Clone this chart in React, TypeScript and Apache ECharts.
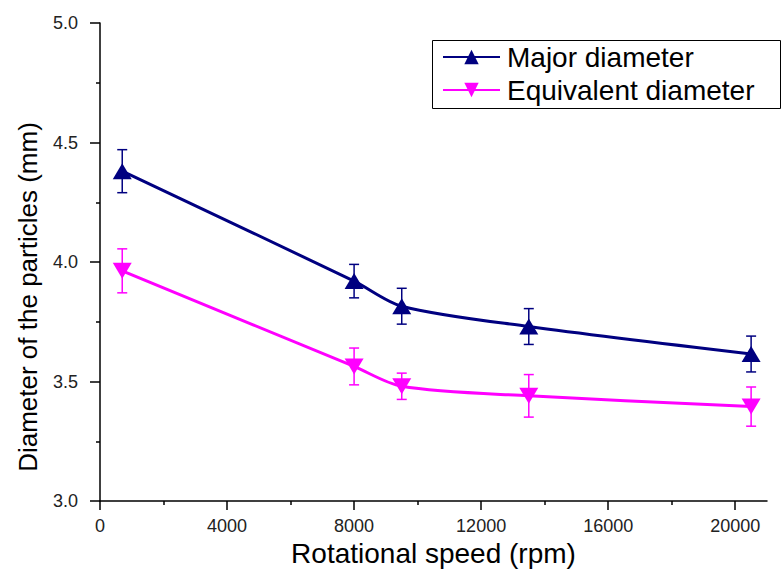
import React, { useEffect, useRef } from "react";
import * as echarts from "echarts";

const speed = [700, 8000, 9500, 13500, 20500];
const majorDiameter = [4.38, 3.92, 3.815, 3.73, 3.615];
const majorError = [0.09, 0.07, 0.075, 0.075, 0.075];
const equivalentDiameter = [3.963, 3.563, 3.48, 3.44, 3.395];
const equivalentError = [0.092, 0.077, 0.055, 0.089, 0.082];
const xMajorTicks = [0, 4000, 8000, 12000, 16000, 20000];
const xMinorTicks = [2000, 6000, 10000, 14000, 18000];

const NAVY = "#000080";
const MAGENTA = "#FF00FF";
const FONT = "Liberation Sans, Arial, sans-serif";

function errorSeries(name: string, values: number[], errs: number[], color: string) {
  return {
    name,
    type: "custom",
    xAxisIndex: 0,
    yAxisIndex: 0,
    z: 1,
    data: speed.map((s, i) => [s, values[i] - errs[i], values[i] + errs[i]]),
    encode: { x: 0, y: [1, 2] },
    renderItem: (params: any, api: any) => {
      const x = api.value(0);
      const lo = api.coord([x, api.value(1)]);
      const hi = api.coord([x, api.value(2)]);
      const hw = 5;
      const style = { stroke: color, lineWidth: 1.5 };
      return {
        type: "group",
        children: [
          { type: "line", shape: { x1: hi[0], y1: hi[1], x2: lo[0], y2: lo[1] }, style },
          { type: "line", shape: { x1: hi[0] - hw, y1: hi[1], x2: hi[0] + hw, y2: hi[1] }, style },
          { type: "line", shape: { x1: lo[0] - hw, y1: lo[1], x2: lo[0] + hw, y2: lo[1] }, style },
        ],
      };
    },
  };
}

export default function App() {
  const ref = useRef<HTMLDivElement>(null);
  useEffect(() => {
    if (!ref.current) return;
    const chart = echarts.init(ref.current, null, { renderer: "svg" });
    chart.setOption({
      animation: false,
      backgroundColor: "#fff",
      grid: { left: 100, right: 15, top: 23, bottom: 76, containLabel: false },
      graphic: [
        {
          type: "rect",
          left: 432,
          top: 40,
          shape: { width: 348, height: 68 },
          style: { fill: "#fff", stroke: "#000", lineWidth: 1 },
          z: 10,
        },
        {
          type: "text",
          x: 28,
          y: 297,
          rotation: Math.PI / 2,
          style: {
            text: "Diameter of the particles (mm)",
            fontSize: 26,
            fontFamily: FONT,
            fill: "#000",
            align: "center",
            verticalAlign: "middle",
          },
        },
      ],
      legend: {
        left: 442,
        top: 43,
        orient: "vertical",
        itemWidth: 57,
        itemHeight: 18,
        itemGap: 5,
        padding: 0,
        z: 20,
        data: ["Major diameter", "Equivalent diameter"],
        textStyle: { fontSize: 28, color: "#000", fontFamily: FONT, padding: [0, 0, 0, 2] },
      },
      xAxis: [
        {
          type: "value",
          min: 0,
          max: 21000,
          interval: 4000,
          name: "Rotational speed (rpm)",
          nameLocation: "middle",
          nameGap: 38,
          nameTextStyle: { fontSize: 28, color: "#000", fontFamily: FONT },
          axisLine: { onZero: false, lineStyle: { color: "#000", width: 1.5 } },
          axisTick: { inside: false, length: 9, customValues: xMajorTicks, lineStyle: { color: "#000", width: 1.5 } },
          axisLabel: {
            customValues: xMajorTicks,
            margin: 16,
            fontSize: 18,
            color: "#222",
            fontFamily: FONT,
            formatter: (v: number) => String(v),
          },
          splitLine: { show: false },
        },
        {
          type: "value",
          min: 0,
          max: 21000,
          position: "bottom",
          axisLine: { show: false },
          axisTick: { length: 4, customValues: xMinorTicks, lineStyle: { color: "#000", width: 1.5 } },
          axisLabel: { show: false },
          splitLine: { show: false },
        },
      ],
      yAxis: {
        type: "value",
        min: 3,
        max: 5,
        interval: 0.5,
        axisLine: { show: true, onZero: false, lineStyle: { color: "#000", width: 1.5 } },
        axisTick: { show: true, length: 10, lineStyle: { color: "#000", width: 1.5 } },
        minorTick: { show: true, splitNumber: 2, length: 4, lineStyle: { color: "#000", width: 1.5 } },
        axisLabel: {
          margin: 22,
          fontSize: 18,
          color: "#222",
          fontFamily: FONT,
          formatter: (v: number) => v.toFixed(1),
        },
        splitLine: { show: false },
      },
      series: [
        errorSeries("majorErr", majorDiameter, majorError, NAVY),
        errorSeries("equivErr", equivalentDiameter, equivalentError, MAGENTA),
        {
          name: "Major diameter",
          type: "line",
          z: 3,
          smooth: 0.3,
          data: speed.map((s, i) => [s, majorDiameter[i]]),
          symbol: "triangle",
          symbolSize: [19, 16],
          itemStyle: { color: NAVY },
          lineStyle: { color: NAVY, width: 3 },
        },
        {
          name: "Equivalent diameter",
          type: "line",
          z: 3,
          smooth: 0.3,
          data: speed.map((s, i) => [s, equivalentDiameter[i]]),
          symbol: "path://M0 0 L10 0 L5 9 Z",
          symbolSize: [19, 16],
          itemStyle: { color: MAGENTA },
          lineStyle: { color: MAGENTA, width: 3 },
        },
      ],
    });
    return () => chart.dispose();
  }, []);
  return (
    <div
      ref={ref}
      style={{ position: "fixed", left: 0, top: 0, width: 782, height: 577, background: "#fff" }}
    />
  );
}
